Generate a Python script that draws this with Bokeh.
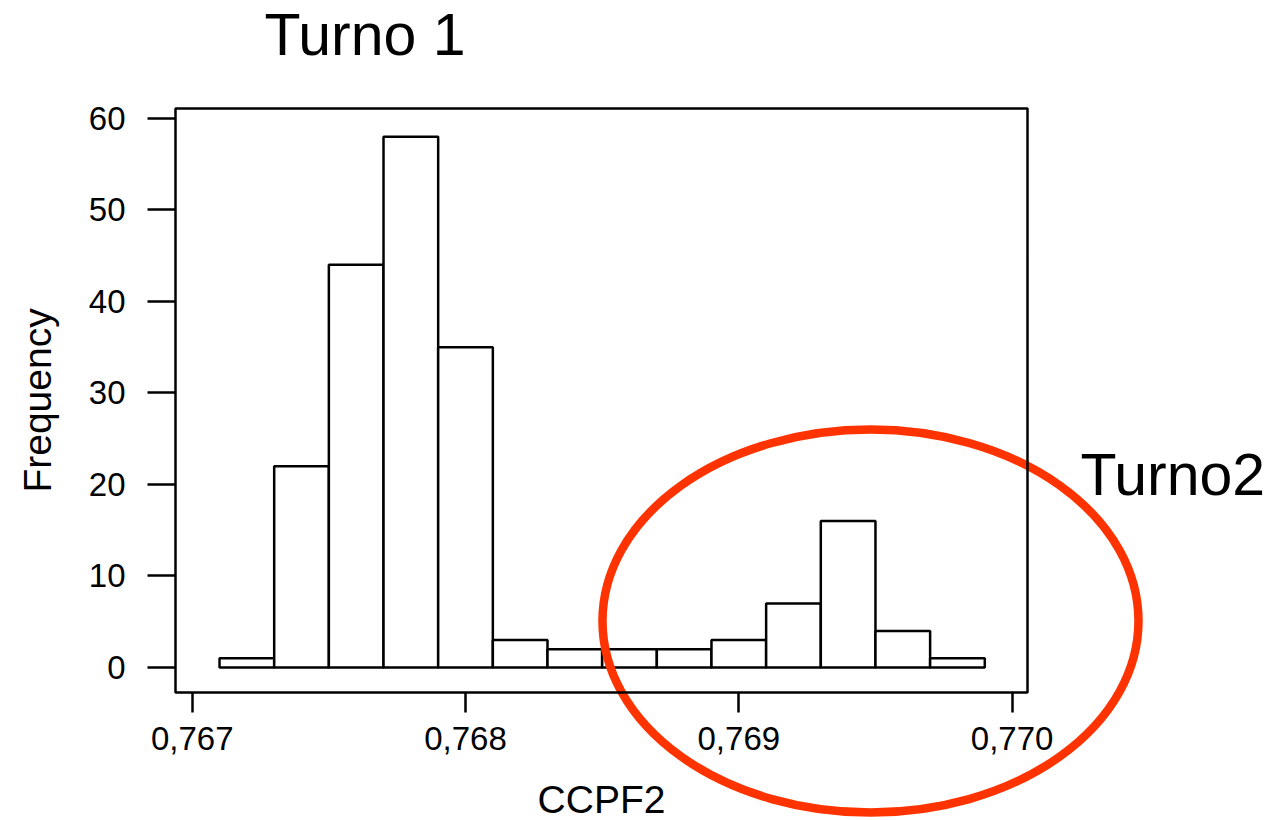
from bokeh.plotting import figure
from bokeh.models import Range1d, FixedTicker, CustomJSTickFormatter, Label, BoxAnnotation
from bokeh.embed import file_html
from bokeh.resources import INLINE

# ---- data ----
bin_left = [0.7671, 0.7673, 0.7675, 0.7677, 0.7679, 0.7681, 0.7683,
            0.7685, 0.7687, 0.7689, 0.7691, 0.7693, 0.7695, 0.7697]
bin_width = 0.0002
counts = [1, 22, 44, 58, 35, 3, 2, 2, 2, 3, 7, 16, 4, 1]
x_ticks = [0.767, 0.768, 0.769, 0.770]
y_ticks = [0, 10, 20, 30, 40, 50, 60]
x_label = "CCPF2"
y_label = "Frequency"
note1 = "Turno 1"
note2 = "Turno2"

# ---- layout (data coordinates of the page and of the axes box) ----
page_x = (0.76629859, 0.77097834)
page_y = (-16.72, 72.89)
box_x = (0.7669389, 0.7700563)
box_y = (-2.73, 61.09)

bin_right = [b + bin_width for b in bin_left]

p = figure(width=1279, height=820, output_backend="svg", toolbar_location=None,
           x_range=Range1d(*page_x), y_range=Range1d(*page_y),
           min_border=0, min_border_left=0, min_border_right=0,
           min_border_top=0, min_border_bottom=0)
p.background_fill_color = "white"
p.border_fill_color = "white"
p.outline_line_color = None
p.grid.visible = False

p.quad(left=bin_left, right=bin_right, bottom=0, top=counts,
       fill_color="white", line_color="black", line_width=2.5)

frame = BoxAnnotation(left=box_x[0], right=box_x[1], bottom=box_y[0], top=box_y[1],
                      fill_color=None, fill_alpha=0, line_color="black",
                      line_alpha=1, line_width=2.5)
p.add_layout(frame)

font = "Liberation Sans"
for ax in (p.xaxis[0], p.yaxis[0]):
    ax.axis_line_color = None
    ax.major_tick_in = 0
    ax.minor_tick_in = 0
    ax.minor_tick_out = 0
    ax.major_tick_line_color = "black"
    ax.major_tick_line_width = 2.5
    ax.major_label_text_font = font
    ax.major_label_text_font_size = "33px"
    ax.major_label_text_color = "black"
    ax.axis_label_text_font = font
    ax.axis_label_text_font_size = "39px"
    ax.axis_label_text_font_style = "normal"
    ax.axis_label_text_color = "black"

xa = p.xaxis[0]
xa.fixed_location = box_y[0]
xa.bounds = box_x
xa.ticker = FixedTicker(ticks=x_ticks)
xa.formatter = CustomJSTickFormatter(code="return tick.toFixed(3).replace('.', ',');")
xa.major_tick_out = 20
xa.major_label_standoff = 15
xa.axis_label = x_label
xa.axis_label_standoff = 24

ya = p.yaxis[0]
ya.fixed_location = box_x[0]
ya.bounds = box_y
ya.ticker = FixedTicker(ticks=y_ticks)
ya.major_tick_out = 28
ya.major_label_standoff = 22
ya.axis_label = y_label
ya.axis_label_standoff = 27

# red ellipse around the second shift
p.ellipse(x=0.7694818, y=5.08, width=0.0019612, height=41.85,
          fill_color=None, line_color="#ff3300", line_width=8.5)

lab1 = Label(x=0.7676323, y=69.17, text=note1, text_font="Liberation Sans",
             text_font_size="59px", text_align="center", text_baseline="alphabetic",
             text_color="black")
lab2 = Label(x=0.7705878, y=21.09, text=note2, text_font="Liberation Sans",
             text_font_size="59px", text_align="center", text_baseline="alphabetic",
             text_color="black")
p.add_layout(lab1)
p.add_layout(lab2)

open("out.html", "w").write(file_html(p, INLINE))
